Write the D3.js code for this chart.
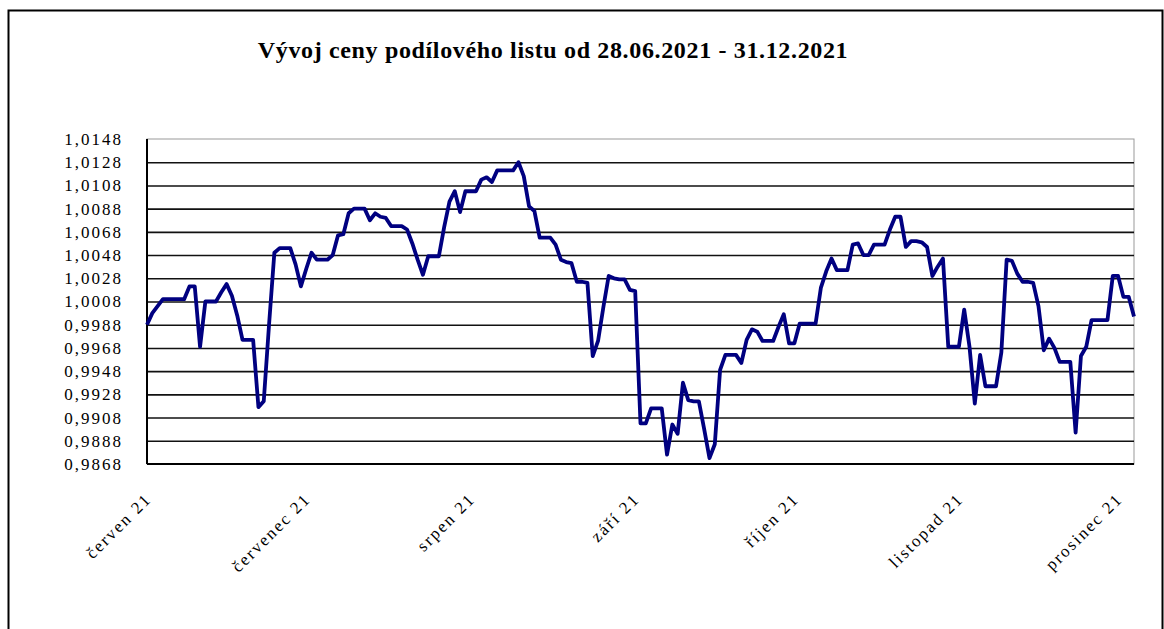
<!DOCTYPE html>
<html>
<head>
<meta charset="utf-8">
<script src="https://cdn.jsdelivr.net/npm/d3@7"></script>
<style>
  body { margin: 0; background: #fff; }
  svg { display: block; }
</style>
</head>
<body>
<svg id="chart" width="1164" height="629"></svg>
<script>
// price series, one value per calendar day from 28.06.2021 (weekends carry the Friday price)
const startDate = '2021-06-28';
const prices = [
  0.9988, 0.9998, 1.0004, 1.0010, 1.0010, 1.0010, 1.0010, 1.0010, 1.0021, 1.0021,
  0.9969, 1.0008, 1.0008, 1.0008, 1.0016, 1.0023, 1.0013, 0.9996, 0.9975, 0.9975,
  0.9975, 0.9917, 0.9922, 0.9988, 1.0050, 1.0054, 1.0054, 1.0054, 1.0040, 1.0021,
  1.0036, 1.0050, 1.0044, 1.0044, 1.0044, 1.0048, 1.0065, 1.0066, 1.0084, 1.0088,
  1.0088, 1.0088, 1.0078, 1.0084, 1.0081, 1.0080, 1.0073, 1.0073, 1.0073, 1.0070,
  1.0058, 1.0044, 1.0031, 1.0047, 1.0047, 1.0047, 1.0072, 1.0094, 1.0103, 1.0085,
  1.0103, 1.0103, 1.0103, 1.0113, 1.0115, 1.0111, 1.0121, 1.0121, 1.0121, 1.0121,
  1.0128, 1.0116, 1.0090, 1.0086, 1.0063, 1.0063, 1.0063, 1.0057, 1.0044, 1.0042,
  1.0041, 1.0025, 1.0025, 1.0024, 0.9961, 0.9974, 1.0003, 1.0030, 1.0028, 1.0027,
  1.0027, 1.0018, 1.0017, 0.9903, 0.9903, 0.9916, 0.9916, 0.9916, 0.9876, 0.9902,
  0.9894, 0.9938, 0.9923, 0.9922, 0.9922, 0.9898, 0.9873, 0.9885, 0.9949, 0.9962,
  0.9962, 0.9962, 0.9955, 0.9975, 0.9984, 0.9982, 0.9974, 0.9974, 0.9974, 0.9986,
  0.9997, 0.9972, 0.9972, 0.9989, 0.9989, 0.9989, 0.9989, 1.0020, 1.0034, 1.0045,
  1.0035, 1.0035, 1.0035, 1.0057, 1.0058, 1.0048, 1.0048, 1.0057, 1.0057, 1.0057,
  1.0070, 1.0081, 1.0081, 1.0055, 1.0060, 1.0060, 1.0059, 1.0055, 1.0030, 1.0038,
  1.0045, 0.9969, 0.9969, 0.9969, 1.0001, 0.9969, 0.9920, 0.9962, 0.9935, 0.9935,
  0.9935, 0.9964, 1.0044, 1.0043, 1.0032, 1.0025, 1.0025, 1.0024, 1.0004, 0.9966,
  0.9976, 0.9968, 0.9956, 0.9956, 0.9956, 0.9895, 0.9961, 0.9969, 0.9992, 0.9992,
  0.9992, 0.9992, 1.0030, 1.0030, 1.0012, 1.0012, 0.9995
];

const yTicks = [0.9868, 0.9888, 0.9908, 0.9928, 0.9948, 0.9968, 0.9988, 1.0008,
  1.0028, 1.0048, 1.0068, 1.0088, 1.0108, 1.0128, 1.0148];

const tickDates = ['2021-06-28', '2021-07-28', '2021-08-28', '2021-09-28',
  '2021-10-28', '2021-11-28', '2021-12-28'];
const tickLabels = ['červen 21', 'červenec 21', 'srpen 21', 'září 21',
  'říjen 21', 'listopad 21', 'prosinec 21'];

const title = 'Vývoj ceny podílového listu od 28.06.2021 - 31.12.2021';

const parse = d3.timeParse('%Y-%m-%d');
const start = parse(startDate);
const data = prices.map((v, i) => ({ date: d3.timeDay.offset(start, i), value: v }));

const plot = { left: 147, right: 1134, top: 139, bottom: 464 };
const serif = '"Liberation Serif", "Times New Roman", serif';

const svg = d3.select('#chart');

// outer frame of the chart object
svg.append('rect')
  .attr('x', 8.5).attr('y', 10.5)
  .attr('width', 1154).attr('height', 660)
  .attr('fill', 'none')
  .attr('stroke', '#000')
  .attr('stroke-width', 2);

svg.append('text')
  .attr('x', 553).attr('y', 58)
  .attr('text-anchor', 'middle')
  .attr('font-family', serif)
  .attr('font-weight', 'bold')
  .attr('font-size', 24)
  .attr('letter-spacing', 0.65)
  .attr('fill', '#000')
  .text(title);

const x = d3.scaleTime()
  .domain([start, d3.timeDay.offset(start, prices.length - 1)])
  .range([plot.left, plot.right]);

const y = d3.scaleLinear()
  .domain([yTicks[0], yTicks[yTicks.length - 1]])
  .range([plot.bottom, plot.top]);

// plot area border
svg.append('rect')
  .attr('x', plot.left).attr('y', plot.top)
  .attr('width', plot.right - plot.left).attr('height', plot.bottom - plot.top)
  .attr('fill', '#fff')
  .attr('stroke', '#999')
  .attr('stroke-width', 1);

// gridlines
const grid = svg.append('g')
  .attr('transform', 'translate(' + plot.left + ',0)')
  .call(d3.axisLeft(y).tickValues(yTicks.slice(1, -1)).tickSize(-(plot.right - plot.left)).tickFormat(''));
grid.select('.domain').remove();
grid.selectAll('line').attr('stroke', '#111').attr('stroke-width', 1.6);

// y axis labels
const yAxis = svg.append('g')
  .attr('transform', 'translate(' + plot.left + ',0)')
  .call(d3.axisLeft(y).tickValues(yTicks).tickSize(0).tickPadding(0)
    .tickFormat(d => d3.format('.4f')(d).replace('.', ',')));
yAxis.select('.domain').remove();
yAxis.selectAll('text')
  .attr('x', 123 - plot.left)
  .attr('font-family', serif)
  .attr('font-size', 17)
  .attr('letter-spacing', 2)
  .attr('fill', '#000');

// x axis labels
const xAxis = svg.append('g')
  .attr('transform', 'translate(0,' + plot.bottom + ')')
  .call(d3.axisBottom(x).tickValues(tickDates.map(parse)).tickSize(0)
    .tickFormat((d, i) => tickLabels[i]));
xAxis.select('.domain').remove();
xAxis.selectAll('text')
  .attr('font-family', serif)
  .attr('font-size', 17)
  .attr('letter-spacing', 2)
  .attr('fill', '#000')
  .attr('text-anchor', 'end')
  .attr('dy', 0)
  .attr('y', 0)
  .attr('transform', 'translate(5,36) rotate(-45)');

// axis lines
svg.append('line')
  .attr('x1', plot.left).attr('x2', plot.left)
  .attr('y1', plot.top).attr('y2', plot.bottom)
  .attr('stroke', '#000').attr('stroke-width', 2);
svg.append('line')
  .attr('x1', plot.left).attr('x2', plot.right)
  .attr('y1', plot.bottom).attr('y2', plot.bottom)
  .attr('stroke', '#000').attr('stroke-width', 2);

// price line
const line = d3.line()
  .x(d => x(d.date))
  .y(d => y(d.value));

svg.append('path')
  .datum(data)
  .attr('fill', 'none')
  .attr('stroke', '#000080')
  .attr('stroke-width', 3.8)
  .attr('stroke-linejoin', 'round')
  .attr('d', line);
</script>
</body>
</html>
